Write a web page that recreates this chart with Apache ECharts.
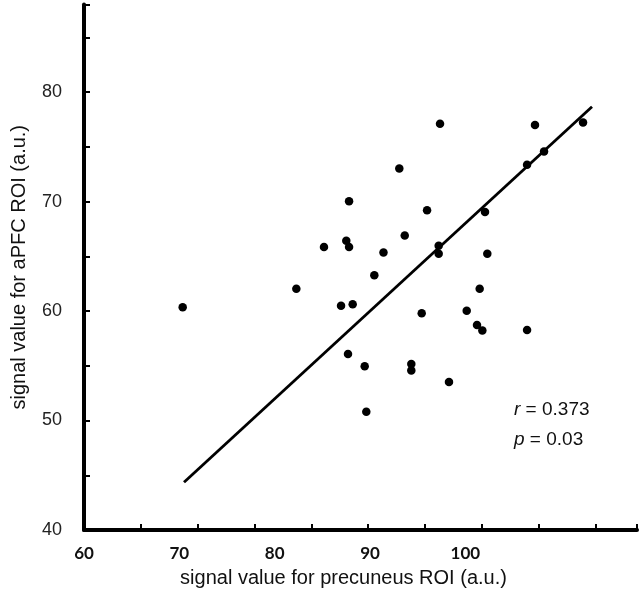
<!DOCTYPE html>
<html>
<head>
<meta charset="utf-8">
<script src="https://cdn.jsdelivr.net/npm/echarts@6/dist/echarts.min.js"></script>
<style>html,body{margin:0;padding:0;background:#fff}#chart{width:640px;height:597px}</style>
</head>
<body>
<div id="chart"></div>
<script>
// precuneus signal (x) and aPFC signal (y)
const precuneus = [70.35, 82.27, 85.17, 87.51, 87.80, 87.80, 86.96, 88.18, 87.69, 89.44, 89.61, 90.45, 91.41, 93.07, 93.64, 94.33, 94.33, 95.42, 95.98, 97.20, 97.20, 97.34, 98.28, 100.14, 101.22, 101.50, 101.78, 102.06, 102.30, 106.47, 106.47, 107.30, 108.25, 112.34];
const aPFC      = [60.34, 62.04, 65.85, 66.42, 65.85, 70.02, 60.48, 60.61, 56.07, 54.95, 50.80, 63.26, 65.34, 73.03, 66.91, 55.16, 54.58, 59.79, 69.20, 65.96, 65.23, 77.10, 53.52, 60.03, 58.72, 62.04, 58.22, 69.04, 65.23, 73.36, 58.26, 76.99, 74.58, 77.23];
// regression line end points
const fitX = [70.49, 113.28];
const fitY = [44.36, 78.66];
const xTickLabels = [60, 70, 80, 90, 100];
const yTickLabels = [40, 50, 60, 70, 80];
const statR = '0.373';
const statP = '0.03';

const points = precuneus.map((v, i) => [v, aPFC[i]]);
const fitLine = fitX.map((v, i) => [v, fitY[i]]);

const chart = echarts.init(document.getElementById('chart'), null, {renderer: 'canvas'});
chart.setOption({
  animation: false,
  backgroundColor: '#fff',
  grid: {left: 84, right: 3, top: 4.5, bottom: 67, containLabel: false},
  xAxis: [
    {
      type: 'value', min: 60, max: 118, interval: 10,
      axisLine: {show: false}, axisTick: {show: false}, splitLine: {show: false},
      axisLabel: {
        margin: 15, color: '#111', fontFamily: 'Lato', fontWeight: 'bold', fontSize: 17,
        formatter: v => xTickLabels.indexOf(v) >= 0 ? String(v) : ''
      },
      name: 'signal value for precuneus ROI (a.u.)',
      nameLocation: 'middle', nameGap: 38,
      nameTextStyle: {fontFamily: 'Liberation Sans', fontSize: 20, color: '#111', padding: [0, 34, 0, 0]}
    },
    {
      type: 'value', min: 0, max: 9.73, interval: 1, position: 'bottom',
      axisLine: {show: true, onZero: false, lineStyle: {color: '#000', width: 4}},
      axisTick: {show: true, inside: true, length: 6, lineStyle: {color: '#000', width: 2}},
      axisLabel: {show: false}, splitLine: {show: false}
    }
  ],
  yAxis: {
    type: 'value', min: 40, max: 88, interval: 5,
    axisLine: {show: true, lineStyle: {color: '#000', width: 4}},
    axisTick: {show: true, inside: true, length: 6, lineStyle: {color: '#000', width: 2}},
    splitLine: {show: false},
    axisLabel: {
      margin: 22, color: '#222', fontFamily: 'Liberation Sans', fontSize: 18,
      formatter: v => yTickLabels.indexOf(v) >= 0 ? String(v) : ''
    },
    name: 'signal value for aPFC ROI (a.u.)',
    nameLocation: 'middle', nameGap: 55, nameRotate: 90,
    nameTextStyle: {fontFamily: 'Liberation Sans', fontSize: 20, color: '#111'}
  },
  series: [
    {
      type: 'line', xAxisIndex: 0, data: fitLine, symbol: 'none',
      lineStyle: {color: '#000', width: 2.8}, z: 2
    },
    {
      type: 'scatter', xAxisIndex: 0, data: points, symbol: 'circle', symbolSize: 8.5,
      itemStyle: {color: '#000', opacity: 1}, z: 3
    }
  ],
  graphic: [
    {
      type: 'text', left: 514, top: 395,
      style: {
        text: '{i|r} = ' + statR + '\n{i|p} = ' + statP,
        font: '19px "Liberation Sans"', fill: '#111', lineHeight: 30,
        rich: {i: {fontStyle: 'italic', fontFamily: 'Liberation Sans', fontSize: 19, fill: '#111', lineHeight: 30}}
      }
    }
  ]
});
</script>
</body>
</html>
